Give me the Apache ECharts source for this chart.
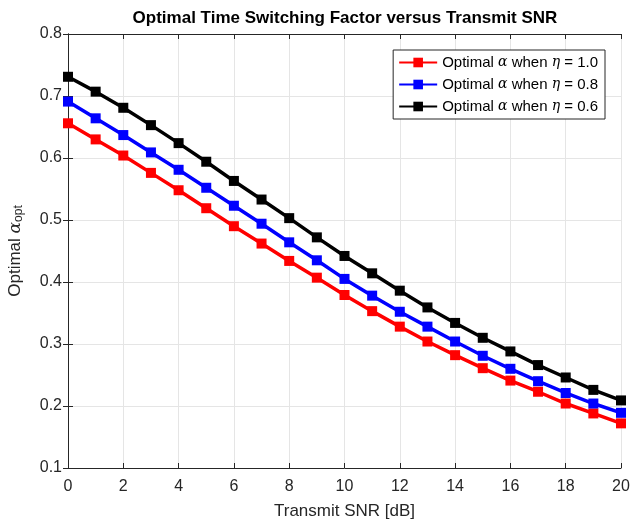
<!DOCTYPE html>
<html>
<head>
<meta charset="utf-8">
<script src="https://cdn.jsdelivr.net/npm/echarts@6/dist/echarts.min.js"></script>
<style>
  html, body { margin: 0; padding: 0; background: #fff; }
  #main { width: 631px; height: 522px; }
</style>
</head>
<body>
<div id="main"></div>
<script>
// transmit SNR in dB
var snr = [0,1,2,3,4,5,6,7,8,9,10,11,12,13,14,15,16,17,18,19,20];
// optimal alpha, eta = 1.0
var alphaEta10 = [0.656,0.630,0.604,0.576,0.548,0.519,0.490,0.462,0.434,0.407,0.379,0.353,0.328,0.304,0.282,0.261,0.241,0.223,0.204,0.188,0.172];
// eta = 0.8
var alphaEta08 = [0.691,0.664,0.637,0.609,0.581,0.552,0.523,0.494,0.464,0.435,0.405,0.378,0.352,0.328,0.304,0.281,0.260,0.240,0.221,0.204,0.189];
// eta = 0.6
var alphaEta06 = [0.731,0.707,0.681,0.653,0.624,0.594,0.563,0.533,0.503,0.472,0.442,0.414,0.386,0.359,0.334,0.310,0.288,0.266,0.246,0.226,0.209];

var xTicks = [0,2,4,6,8,10,12,14,16,18,20];
var yTicks = [0.1,0.2,0.3,0.4,0.5,0.6,0.7,0.8];

var font = 'Liberation Sans';
var axisCol = '#262626';
var gridCol = '#e5e5e5';

function pairs(ys){
  return snr.map(function(x, i){ return [x, ys[i]]; });
}

var lines = [
  {name: 'eta1.0', eta: '1.0', color: '#ff0000', data: alphaEta10},
  {name: 'eta0.8', eta: '0.8', color: '#0000ff', data: alphaEta08},
  {name: 'eta0.6', eta: '0.6', color: '#000000', data: alphaEta06}
];

var chart = echarts.init(document.getElementById('main'));

var baseAxis = {
  axisLine: {show: true, lineStyle: {color: axisCol, width: 1}},
  axisTick: {show: true, inside: true, length: 5, lineStyle: {color: axisCol}},
  splitLine: {show: false},
  axisLabel: {show: false}
};

chart.setOption({
  animation: false,
  backgroundColor: '#fff',
  title: {
    text: 'Optimal Time Switching Factor versus Transmit SNR',
    left: 340,
    textAlign: 'center',
    top: 5,
    textStyle: {fontFamily: font, fontSize: 17, fontWeight: 'bold', color: '#000'}
  },
  grid: {left: 68, right: 10, top: 34, bottom: 54, containLabel: false, outerBoundsMode: 'none'},
  legend: {
    orient: 'vertical',
    right: 26,
    top: 50,
    backgroundColor: '#fff',
    borderColor: axisCol,
    borderWidth: 1,
    borderRadius: 0,
    padding: [5, 7, 5, 5],
    itemGap: 7,
    itemWidth: 38,
    itemHeight: 12,
    data: lines.map(function(l){ return l.name; }),
    formatter: function(name){
      var l = lines.filter(function(s){ return s.name === name; })[0];
      return 'Optimal {g|α} when {g|η} = ' + l.eta;
    },
    textStyle: {
      fontFamily: font, fontSize: 15, color: '#000',
      rich: {g: {fontFamily: 'DejaVu Serif', fontStyle: 'italic', fontSize: 14, color: '#000'}}
    }
  },
  xAxis: [
    Object.assign({}, baseAxis, {
      type: 'value', min: 0, max: 20, interval: 2, position: 'bottom',
      splitLine: {show: true, lineStyle: {color: gridCol, width: 1}},
      axisLabel: {show: true, color: axisCol, fontFamily: font, fontSize: 16, margin: 11,
        formatter: function(v){ return xTicks.indexOf(v) >= 0 ? String(v) : ''; }},
      name: 'Transmit SNR [dB]',
      nameLocation: 'middle',
      nameGap: 35,
      nameTextStyle: {fontFamily: font, fontSize: 17, color: axisCol}
    }),
    Object.assign({}, baseAxis, {
      type: 'value', min: 0, max: 20, interval: 2, position: 'top'
    })
  ],
  yAxis: [
    Object.assign({}, baseAxis, {
      type: 'value', min: 0.1, max: 0.8, interval: 0.1, position: 'left',
      splitLine: {show: true, lineStyle: {color: gridCol, width: 1}},
      axisLabel: {show: true, color: axisCol, fontFamily: font, fontSize: 16, margin: 6,
        formatter: function(v){ return v.toFixed(1); }},
      name: 'Optimal {g|α}{s|opt}',
      nameLocation: 'middle',
      nameGap: 43,
      nameTextStyle: {fontFamily: font, fontSize: 17, color: axisCol,
        rich: {
          g: {fontFamily: 'DejaVu Serif', fontStyle: 'italic', fontSize: 17, color: axisCol},
          s: {fontFamily: font, fontSize: 12, color: axisCol, verticalAlign: 'bottom', padding: [7, 0, 0, 0]}
        }}
    }),
    Object.assign({}, baseAxis, {
      type: 'value', min: 0.1, max: 0.8, interval: 0.1, position: 'right'
    })
  ],
  series: lines.map(function(l){
    return {
      name: l.name,
      type: 'line',
      xAxisIndex: 0,
      yAxisIndex: 0,
      data: pairs(l.data),
      symbol: 'rect',
      symbolSize: 10,
      showAllSymbol: true,
      lineStyle: {color: l.color, width: 3.5},
      itemStyle: {color: l.color, borderColor: l.color, borderWidth: 0},
      emphasis: {disabled: true}
    };
  })
});
</script>
</body>
</html>
